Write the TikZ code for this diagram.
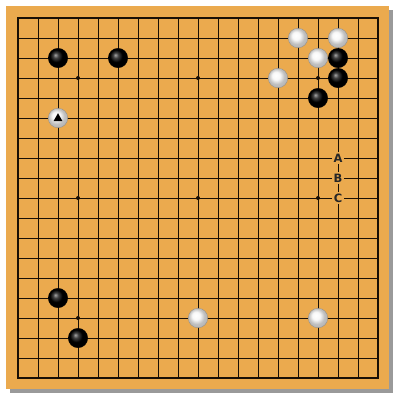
\documentclass[tikz,border=0pt]{standalone}
\usepackage{fontspec}
\setsansfont{DejaVu Sans}
\usetikzlibrary{calc}
\definecolor{wood}{HTML}{EBAA4E}
\definecolor{gridc}{HTML}{1A1005}
\definecolor{shadowc}{HTML}{9A9A9A}
\pgfdeclareradialshading{blackstone}{\pgfpoint{-7bp}{8bp}}{%
  color(0bp)=(black!35!white); color(7bp)=(black!75!white); color(16bp)=(black); color(50bp)=(black)}
\pgfdeclareradialshading{whitestone}{\pgfpoint{-6bp}{7bp}}{%
  color(0bp)=(white); color(10bp)=(white!97!black); color(20bp)=(white!75!black); color(50bp)=(white!60!black)}
\begin{document}
\begin{tikzpicture}[x=1pt,y=-1pt,
  bstone/.style={circle,minimum size=19.5pt,inner sep=0pt,shading=blackstone,draw=black,line width=0.3pt},
  wstone/.style={circle,minimum size=19.5pt,inner sep=0pt,shading=whitestone,draw=white!55!black,line width=0.3pt},
  starpt/.style={circle,fill=gridc,minimum size=4pt,inner sep=0pt},
  lbl/.style={fill=wood,inner sep=0pt,minimum size=12pt,font=\sffamily\bfseries\fontsize{11.5}{11.5}\selectfont,text=black!85}]
\useasboundingbox (0,0) rectangle (400,400);
\fill[white] (0,0) rectangle (400,400);
\fill[shadowc] (10,10) rectangle (393,393);
\fill[wood] (6,6) rectangle (389,389);
\foreach \i in {0,...,18} {
  \draw[gridc,line width=0.9pt] (18+20*\i,18) -- (18+20*\i,378);
  \draw[gridc,line width=0.9pt] (18,18+20*\i) -- (378,18+20*\i);
}
\draw[gridc,line width=1.2pt] (18,18) rectangle (378,378);
\foreach \c/\r [count=\k] in {3/3,9/3,15/3,3/9,9/9,15/9,3/15,9/15,15/15}
  \node[starpt] (star\k) at (18+20*\c,18+20*\r) {};
% black stones
\node[bstone] (b1) at (58,58) {};
\node[bstone] (b2) at (118,58) {};
\node[bstone] (b3) at (338,58) {};
\node[bstone] (b4) at (338,78) {};
\node[bstone] (b5) at (318,98) {};
\node[bstone] (b6) at (58,298) {};
\node[bstone] (b7) at (78,338) {};
% white stones
\node[wstone] (w1) at (298,38) {};
\node[wstone] (w2) at (338,38) {};
\node[wstone] (w3) at (318,58) {};
\node[wstone] (w4) at (278,78) {};
\node[wstone] (w5) at (58,118) {};
\node[wstone] (w6) at (198,318) {};
\node[wstone] (w7) at (318,318) {};
\fill[black] ($(w5)+(0,-4.8)$) -- ($(w5)+(4.4,3)$) -- ($(w5)+(-4.4,3)$) -- cycle;
% labels
\node[lbl] (la) at (338,158) {A};
\node[lbl] (lb) at (338,178) {B};
\node[lbl] (lc) at (338,198) {C};
\end{tikzpicture}
\end{document}
